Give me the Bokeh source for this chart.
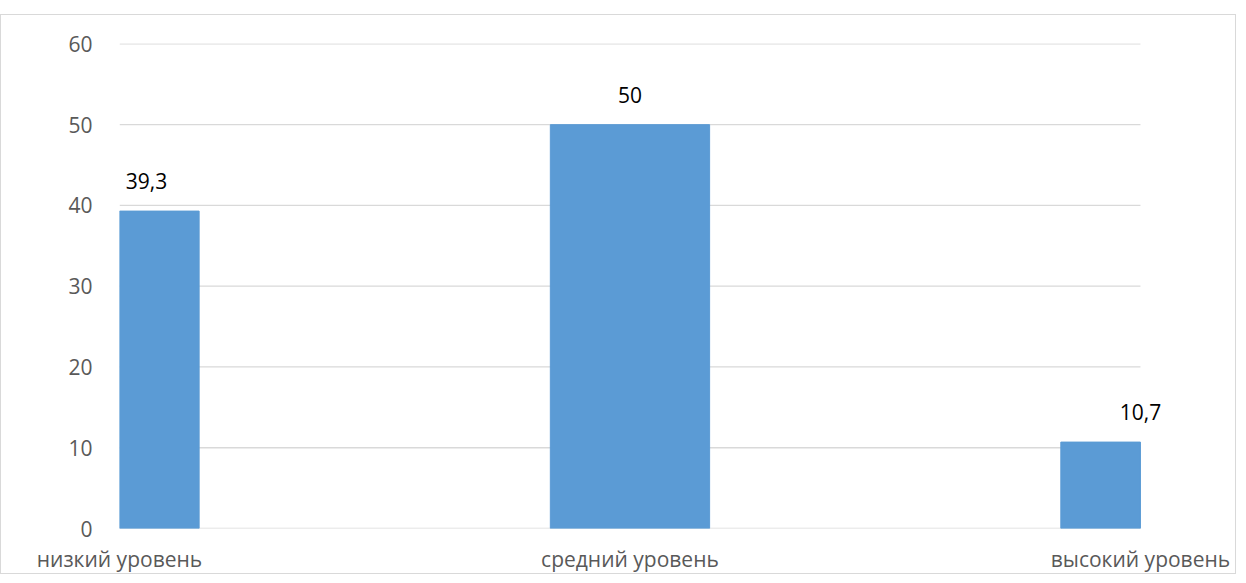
from bokeh.plotting import figure
from bokeh.models import FixedTicker, Range1d, Label
from bokeh.embed import file_html
from bokeh.resources import INLINE

categories = ["низкий уровень", "средний уровень", "высокий уровень"]
values = [39.3, 50, 10.7]
labels = ["39,3", "50", "10,7"]
y_ticks = [0, 10, 20, 30, 40, 50, 60]

xs = list(range(len(categories)))
label_dx = [27, 0, 0]
BAR_W = 0.312
FONT = "Open Sans"

x_lo, x_hi = xs[0], xs[-1]
p = figure(width=1236, height=560, output_backend="svg", toolbar_location=None,
           x_range=Range1d(x_lo, x_hi + 0.1), y_range=Range1d(0, 60.05),
           min_border_left=118, min_border_right=46, min_border_top=28, min_border_bottom=43)
p.styles = {"border": "1px solid #d9d9d9", "margin-top": "14px"}
p.outline_line_color = None
p.background_fill_color = "white"
p.border_fill_color = "white"

# horizontal gridlines spanning the category extent
p.segment(x0=[x_lo] * len(y_ticks), x1=[x_hi] * len(y_ticks), y0=y_ticks, y1=y_ticks,
          line_color="#d9d9d9", line_width=1.3, level="underlay")

# bars clipped to the category extent (as in the original)
lefts = [max(x - BAR_W / 2, x_lo) for x in xs]
rights = [min(x + BAR_W / 2, x_hi) for x in xs]
p.quad(left=lefts, right=rights, bottom=0, top=values, color="#5b9bd5")

for x, v, t, dx in zip(xs, values, labels, label_dx):
    p.add_layout(Label(x=x, y=v, text=t, x_offset=dx, y_offset=30,
                       text_align="center", text_baseline="alphabetic", text_color="black",
                       text_font=FONT, text_font_size="21px"))

p.xgrid.visible = False
p.ygrid.visible = False
p.yaxis.ticker = FixedTicker(ticks=y_ticks)
p.xaxis.ticker = FixedTicker(ticks=xs)
p.xaxis.major_label_overrides = {i: c for i, c in enumerate(categories)}

for ax in (p.xaxis, p.yaxis):
    ax.axis_line_color = None
    ax.major_tick_line_color = None
    ax.minor_tick_line_color = None
    ax.major_label_text_color = "#595959"
    ax.major_label_text_font = FONT
    ax.major_label_text_font_size = "21px"
p.yaxis.major_label_standoff = 21
p.xaxis.major_label_standoff = 10

open("out.html", "w").write(file_html(p, INLINE))
